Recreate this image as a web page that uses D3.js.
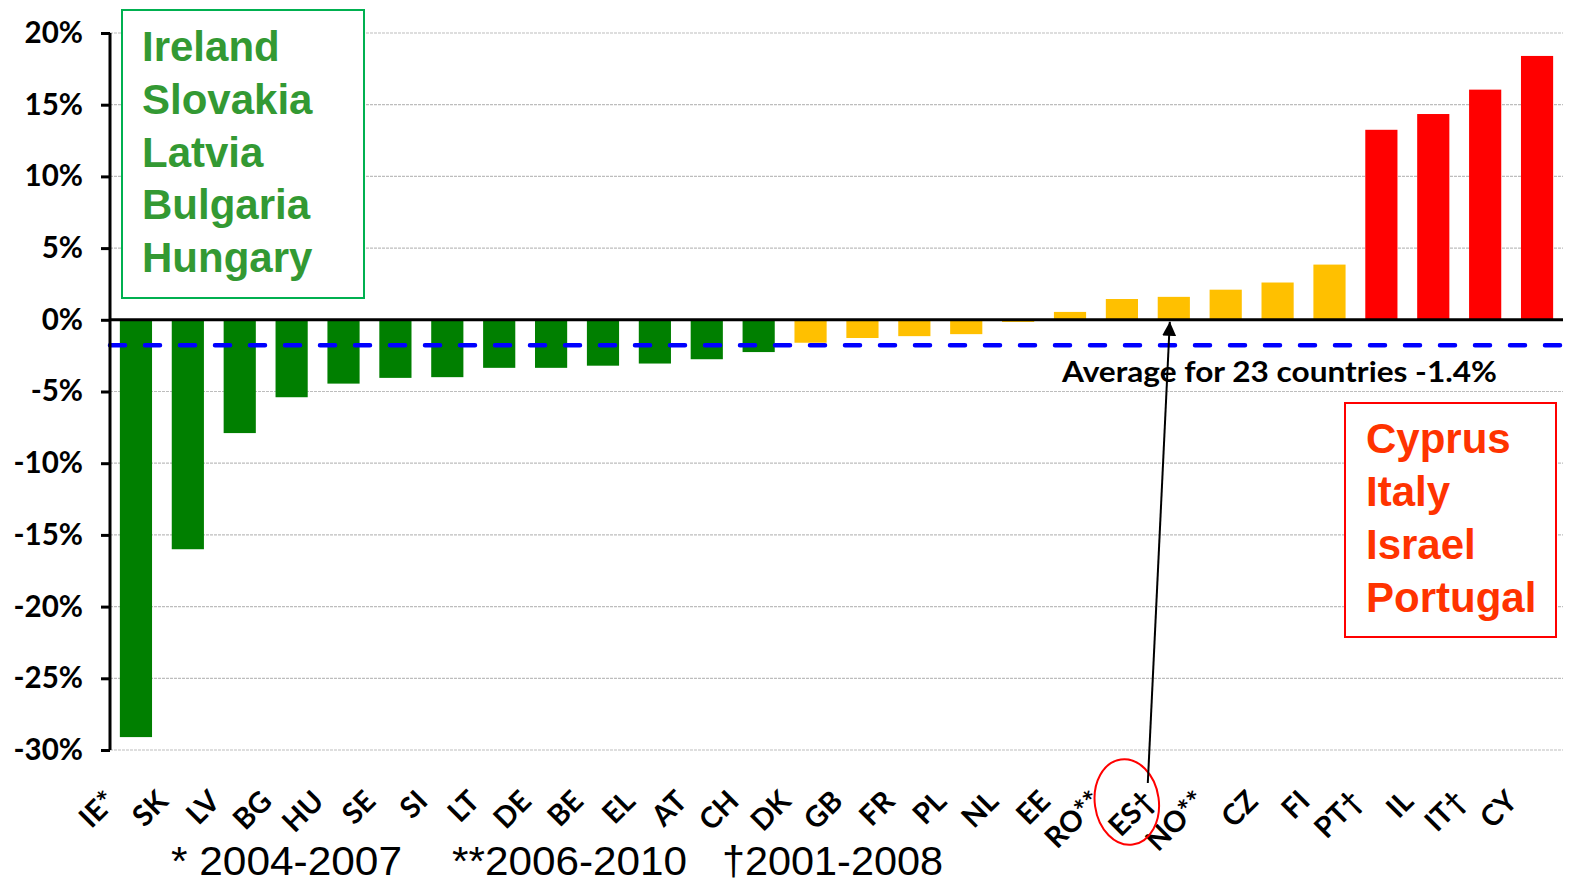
<!DOCTYPE html>
<html>
<head>
<meta charset="utf-8">
<script src="https://cdn.jsdelivr.net/npm/d3@7/dist/d3.min.js"></script>
<style>
  html, body { margin: 0; padding: 0; background: #fff; }
  svg { display: block; }
</style>
</head>
<body>
<svg id="chart" width="1571" height="884"></svg>
<script>
// ---- data ----
const countries = ["IE*","SK","LV","BG","HU","SE","SI","LT","DE","BE","EL","AT","CH",
                   "DK","GB","FR","PL","NL","EE","RO**","ES\u2020","NO**","CZ","FI",
                   "PT\u2020","IL","IT\u2020","CY"];
const values = [-29.1,-16.0,-7.9,-5.4,-4.45,-4.05,-4.0,-3.35,-3.35,-3.2,-3.05,-2.75,-2.25,
                -1.6,-1.27,-1.14,-1.0,-0.15,0.55,1.45,1.6,2.1,2.6,3.85,
                13.25,14.35,16.05,18.4];
const groups = ["low","low","low","low","low","low","low","low","low","low","low","low","low",
                "mid","mid","mid","mid","mid","mid","mid","mid","mid","mid","mid",
                "high","high","high","high"];
const yTicks = [-30,-25,-20,-15,-10,-5,0,5,10,15,20];
const averageLine = -1.78;
const averageLabel = "Average for 23 countries -1.4%";
const greenList = ["Ireland","Slovakia","Latvia","Bulgaria","Hungary"];
const redList = ["Cyprus","Italy","Israel","Portugal"];
const footnotes = ["* 2004-2007","**2006-2010","\u20202001-2008"];
const highlighted = "ES\u2020";

// ---- layout ----
const colors = { low: "#007f00", mid: "#ffc000", high: "#ff0000" };
const svg = d3.select("#chart");
const plotLeft = 110, plotRight = 1563, plotTop = 33, plotBottom = 750;

const x = d3.scaleBand().domain(countries).range([plotLeft, plotRight])
  .paddingInner(0.38).paddingOuter(0.19);
const y = d3.scaleLinear().domain([-30, 20]).range([plotBottom, plotTop]);

// gridlines
svg.append("g").selectAll("line").data(yTicks.filter(d => d !== 0)).join("line")
  .attr("x1", plotLeft).attr("x2", plotRight)
  .attr("y1", d => y(d)).attr("y2", d => y(d))
  .attr("stroke", "#bdbdbd").attr("stroke-width", 1.2)
  .attr("stroke-dasharray", "3,1");

// bars
svg.append("g").selectAll("rect").data(countries).join("rect")
  .attr("x", d => x(d))
  .attr("width", x.bandwidth())
  .attr("y", (d, i) => y(Math.max(0, values[i])))
  .attr("height", (d, i) => Math.abs(y(values[i]) - y(0)))
  .attr("fill", (d, i) => colors[groups[i]]);

// zero line
svg.append("line").attr("x1", plotLeft).attr("x2", plotRight)
  .attr("y1", y(0)).attr("y2", y(0))
  .attr("stroke", "#000").attr("stroke-width", 3);

// average dashed line
svg.append("line").attr("x1", plotLeft).attr("x2", plotRight)
  .attr("y1", y(averageLine)).attr("y2", y(averageLine))
  .attr("stroke", "#0000ff").attr("stroke-width", 4.5)
  .attr("stroke-linecap", "round")
  .attr("stroke-dasharray", "15,20");

// y axis
const yAxis = d3.axisLeft(y).tickValues(yTicks).tickSize(9).tickPadding(18)
  .tickFormat(d => d + "%");
const gy = svg.append("g").attr("transform", `translate(${plotLeft},0)`).call(yAxis);
gy.select(".domain").attr("stroke", "#000").attr("stroke-width", 3)
  .attr("d", `M0,${plotTop}V${plotBottom}`);
gy.selectAll(".tick line").attr("stroke", "#000").attr("stroke-width", 3);
gy.selectAll(".tick text").attr("font-family", "Lato, sans-serif")
  .attr("font-weight", 700).attr("font-size", 29.5).attr("fill", "#000");

// x labels (rotated)
svg.append("g").selectAll("text").data(countries).join("text")
  .attr("transform", d => `translate(${x(d) + x.bandwidth() / 2 - 18},803) rotate(-45)`)
  .attr("text-anchor", "end")
  .attr("font-family", "Lato, sans-serif").attr("font-weight", 700)
  .attr("font-size", 29).attr("fill", "#000")
  .text(d => d);

// average label
svg.append("text").attr("x", 1062).attr("y", 382)
  .attr("font-family", "Lato, sans-serif").attr("font-weight", 700)
  .attr("font-size", 28).attr("textLength", 435).attr("lengthAdjust", "spacingAndGlyphs")
  .attr("fill", "#000").text(averageLabel);

// annotation: ellipse + arrow to ES bar
const esX = x(highlighted) + x.bandwidth() / 2;
svg.append("ellipse")
  .attr("transform", `translate(${esX - 47},802) rotate(-8)`)
  .attr("rx", 32).attr("ry", 43)
  .attr("fill", "none").attr("stroke", "#ff0000").attr("stroke-width", 2);

const defs = svg.append("defs");
defs.append("marker").attr("id", "arrow").attr("viewBox", "0 0 10 10")
  .attr("refX", 10).attr("refY", 5).attr("markerWidth", 7).attr("markerHeight", 7)
  .attr("markerUnits", "strokeWidth").attr("orient", "auto")
  .append("path").attr("d", "M0,0L10,5L0,10Z").attr("fill", "#000");
svg.append("line")
  .attr("x1", esX - 26).attr("y1", 783)
  .attr("x2", esX - 4).attr("y2", y(0) + 2)
  .attr("stroke", "#000").attr("stroke-width", 2)
  .attr("marker-end", "url(#arrow)");

// green legend box
svg.append("rect").attr("x", 122).attr("y", 10).attr("width", 242).attr("height", 288)
  .attr("fill", "#fff").attr("stroke", "#00b050").attr("stroke-width", 2);
svg.append("g").selectAll("text").data(greenList).join("text")
  .attr("x", 142).attr("y", (d, i) => 61 + i * 52.8)
  .attr("font-family", "'Liberation Sans', Arial, sans-serif").attr("font-weight", 700)
  .attr("font-size", 42).attr("fill", "#339933").text(d => d);

// red legend box
svg.append("rect").attr("x", 1345).attr("y", 403).attr("width", 211).attr("height", 234)
  .attr("fill", "#fff").attr("stroke", "#ff0000").attr("stroke-width", 2);
svg.append("g").selectAll("text").data(redList).join("text")
  .attr("x", 1366).attr("y", (d, i) => 453 + i * 53)
  .attr("font-family", "'Liberation Sans', Arial, sans-serif").attr("font-weight", 700)
  .attr("font-size", 42).attr("fill", "#ff3300").text(d => d);

// footnotes
const fnX = [171, 452, 722];
const fnW = [231, 235, 221];
svg.append("g").selectAll("text").data(footnotes).join("text")
  .attr("x", (d, i) => fnX[i]).attr("y", 875)
  .attr("font-family", "'Liberation Sans', Arial, sans-serif")
  .attr("font-size", 41).attr("fill", "#000")
  .attr("textLength", (d, i) => fnW[i]).attr("lengthAdjust", "spacingAndGlyphs")
  .text(d => d);
</script>
</body>
</html>
